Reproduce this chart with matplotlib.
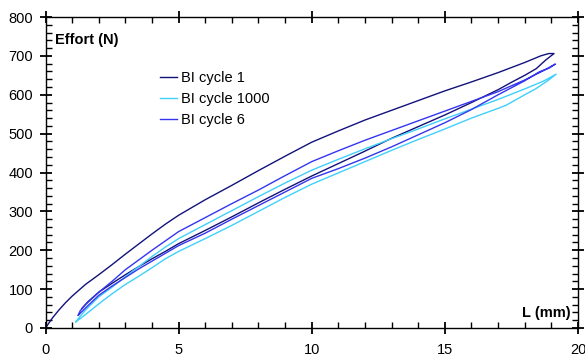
import matplotlib
matplotlib.use("Agg")
import matplotlib.pyplot as plt
from matplotlib.ticker import MultipleLocator

plt.rcParams['font.family'] = ['Liberation Sans', 'DejaVu Sans']

# Cycle 1 (loading then unloading)
c1_x = [0.0, 0.25, 0.5, 0.75, 1.0, 1.5, 2.0, 2.5, 3.0, 3.5, 4.0, 4.5, 5.0, 6.0, 7.0, 8.0,
        9.0, 10.0, 11.0, 12.0, 13.0, 14.0, 15.0, 16.0, 17.0, 18.0, 18.6, 18.9, 19.1,
        18.8, 18.43, 18.0, 17.5, 17.0, 16.0, 15.0, 14.0, 13.0, 12.0, 11.0, 10.0, 9.0,
        8.0, 7.0, 6.0, 5.0, 4.5, 4.0, 3.5, 3.0, 2.5, 2.0, 1.6, 1.36]
c1_y = [0, 25, 46, 65, 82, 112, 137, 163, 190, 216, 242, 267, 290, 330, 367, 405,
        442, 478, 507, 535, 560, 585, 610, 633, 657, 683, 700, 706, 706,
        690, 667, 650, 632, 613, 580, 548, 518, 488, 455, 423, 391, 357,
        322, 286, 251, 217, 197, 178, 158, 137, 115, 92, 68, 50]

# Cycle 1000
c1000_x = [1.14, 1.3, 1.5, 2.0, 2.5, 3.0, 3.5, 4.0, 4.5, 5.0, 6.0, 7.0, 8.0, 9.0, 10.0,
           11.0, 12.0, 13.0, 14.0, 15.0, 16.0, 17.0, 18.0, 18.7, 19.18,
           18.9, 18.43, 18.0, 17.3, 17.0, 16.0, 15.0, 14.0, 13.0, 12.0, 11.0, 10.0, 9.0,
           8.0, 7.0, 6.0, 5.0, 4.5, 4.0, 3.5, 3.0, 2.5, 2.0, 1.6, 1.3, 1.14]
c1000_y = [16, 30, 46, 80, 105, 132, 158, 184, 208, 230, 266, 302, 338, 373, 406,
           434, 461, 487, 512, 538, 563, 588, 615, 635, 653,
           638, 616, 600, 573, 565, 540, 512, 485, 457, 428, 399, 370, 336,
           300, 264, 230, 197, 178, 155, 133, 112, 88, 62, 40, 24, 16]

# Cycle 6
c6_x = [1.23, 1.3, 1.5, 2.0, 2.5, 3.0, 3.5, 4.0, 4.5, 5.0, 6.0, 7.0, 8.0, 9.0, 10.0,
        11.0, 12.0, 13.0, 14.0, 15.0, 16.0, 17.0, 18.0, 18.7, 19.15,
        18.9, 18.55, 18.0, 17.0, 16.0, 15.0, 14.0, 13.0, 12.0, 11.0, 10.0, 9.0,
        8.0, 7.0, 6.0, 5.0, 4.5, 4.0, 3.5, 3.0, 2.5, 2.0, 1.6, 1.23]
c6_y = [33, 44, 60, 92, 120, 150, 175, 200, 224, 248, 284, 320, 355, 392, 428,
        456, 483, 508, 533, 558, 583, 608, 638, 662, 679,
        668, 659, 636, 600, 562, 528, 497, 466, 437, 410, 385, 350,
        315, 280, 244, 212, 192, 172, 152, 130, 108, 84, 58, 33]

labels = ["BI cycle 1", "BI cycle 1000", "BI cycle 6"]
colors = ["#12127a", "#3fd0fa", "#3535f0"]

fig = plt.figure(figsize=(5.85, 3.58), dpi=100)
ax = fig.add_axes([0.0778, 0.0838, 0.9102, 0.8687])

for xs, ys, lab, col in zip([c1_x, c1000_x, c6_x], [c1_y, c1000_y, c6_y], labels, colors):
    ax.plot(xs, ys, color=col, lw=1.0, label=lab)

ax.set_xlim(0, 20)
ax.set_ylim(0, 800)
ax.xaxis.set_major_locator(MultipleLocator(5))
ax.xaxis.set_minor_locator(MultipleLocator(1))
ax.yaxis.set_major_locator(MultipleLocator(100))
ax.yaxis.set_minor_locator(MultipleLocator(20))
ax.tick_params(which='major', direction='inout', length=8, width=1.3,
               top=True, right=True, labelsize=10.5, pad=5)
ax.tick_params(axis='x', which='major', pad=7)
ax.tick_params(which='minor', direction='in', length=4, width=1.0,
               top=True, right=True)
for s in ax.spines.values():
    s.set_linewidth(1.0)

ax.text(0.018, 0.926, "Effort (N)", transform=ax.transAxes, fontsize=10.5,
        fontweight='bold', ha='left', va='center')
ax.text(0.986, 0.048, "L (mm)", transform=ax.transAxes, fontsize=10.5,
        fontweight='bold', ha='right', va='center')

ax.legend(loc='upper left', bbox_to_anchor=(0.215, 0.826), frameon=False,
          fontsize=10.5, handlelength=1.2, handletextpad=0.25, labelspacing=0.48,
          borderaxespad=0, borderpad=0)

fig.savefig("out.png", dpi=100)
